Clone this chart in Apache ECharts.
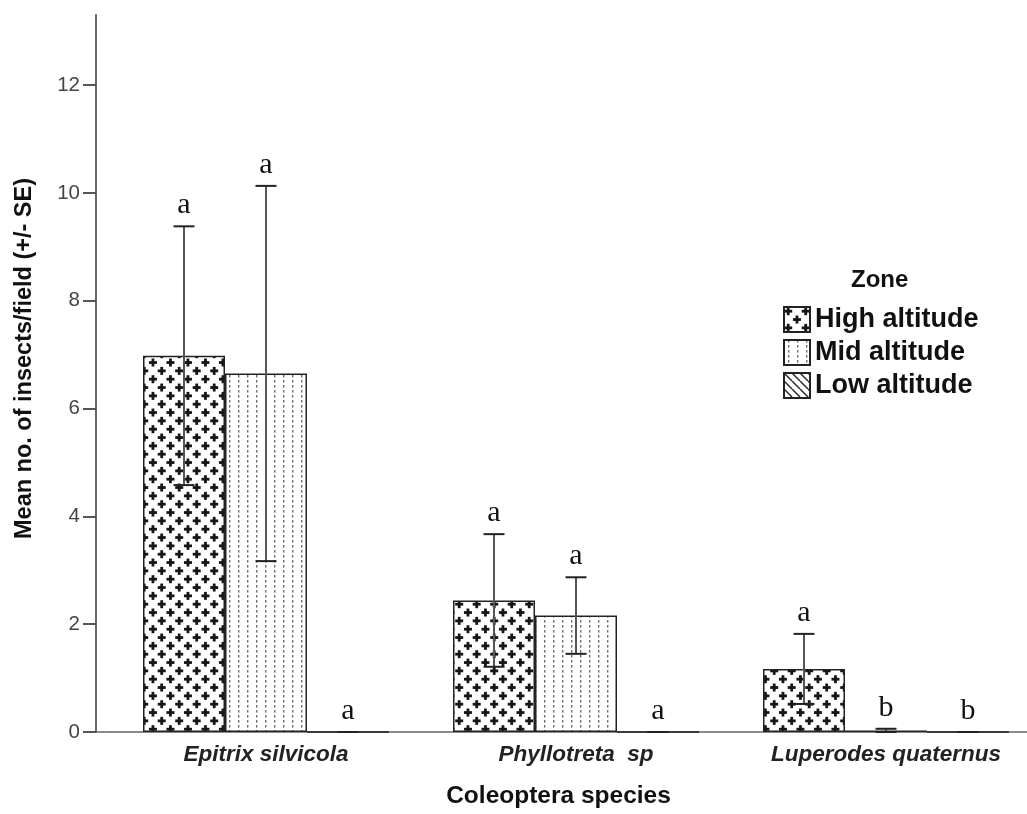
<!DOCTYPE html>
<html>
<head>
<meta charset="utf-8">
<script src="https://cdn.jsdelivr.net/npm/echarts@6/dist/echarts.min.js"></script>
<style>
  html, body { margin: 0; padding: 0; background: #fff; overflow: hidden; }
  #chart { width: 1041px; height: 814px; }
</style>
</head>
<body>
<div id="chart"></div>
<script>
// ---------------- data ----------------
const categories = ['Epitrix silvicola', 'Phyllotreta  sp', 'Luperodes quaternus'];
const zones = ['High altitude', 'Mid altitude', 'Low altitude'];
const highMean = [6.98, 2.44, 1.17];
const highSE   = [2.40, 1.23, 0.65];
const midMean  = [6.65, 2.16, 0.03];
const midSE    = [3.48, 0.71, 0.03];
const lowMean  = [0, 0, 0];
const lowSE    = [0, 0, 0];
const highLetters = ['a', 'a', 'a'];
const midLetters  = ['a', 'a', 'b'];
const lowLetters  = ['a', 'a', 'b'];
const yTicks = [0, 2, 4, 6, 8, 10, 12];
const yMax = 13.3;

// ---------------- styling constants ----------------
const BAR_W = 82;
const CAP_W = 21;
const GRID_LEFT = 111;
const Y_OFFSET = 15;
const SANS = 'Liberation Sans';

// ---------------- fill patterns ----------------
function plusPattern() {
  const c = document.createElement('canvas');
  c.width = 35; c.height = 50;
  const g = c.getContext('2d');
  g.fillStyle = '#fff'; g.fillRect(0, 0, 35, 50);
  g.fillStyle = '#161616';
  for (let r = 0; r < 6; r++) {
    const y = r * 50 / 6 + 4.2;
    for (let col = 0; col < 2; col++) {
      const x = col * 17.5 + (r % 2 ? 8.75 : 0) + 4.2;
      g.fillRect(x - 4, y - 1.4, 8, 2.8);
      g.fillRect(x - 1.4, y - 4, 2.8, 8);
    }
  }
  return { image: c, repeat: 'repeat' };
}
function dotPattern() {
  const c = document.createElement('canvas');
  c.width = 9; c.height = 5;
  const g = c.getContext('2d');
  g.fillStyle = '#fff'; g.fillRect(0, 0, 9, 5);
  g.fillStyle = '#707070';
  g.fillRect(4, 0, 1.4, 2.6);
  return { image: c, repeat: 'repeat' };
}
function hatchPattern() {
  const c = document.createElement('canvas');
  c.width = 8; c.height = 8;
  const g = c.getContext('2d');
  g.fillStyle = '#fff'; g.fillRect(0, 0, 8, 8);
  g.strokeStyle = '#222'; g.lineWidth = 1.4;
  for (const k of [-8, 0, 8]) {
    g.beginPath(); g.moveTo(k, 0); g.lineTo(k + 8, 8); g.stroke();
  }
  return { image: c, repeat: 'repeat' };
}
const patterns = [plusPattern(), dotPattern(), hatchPattern()];

function barSeries(k, means) {
  return {
    type: 'bar',
    name: zones[k],
    data: means,
    barWidth: BAR_W,
    barGap: '0%',
    z: 2,
    itemStyle: { color: patterns[k], borderColor: '#222', borderWidth: 1.5 },
    emphasis: { disabled: true }
  };
}

function errSeries(k, means, ses, letters) {
  return {
    type: 'custom',
    name: 'err' + k,
    z: 5,
    silent: true,
    data: means.map((m, i) => [i, m - ses[i], m + ses[i]]),
    renderItem: function (params, api) {
      const i = api.value(0);
      const top = api.coord([i, api.value(2)]);
      const bot = api.coord([i, api.value(1)]);
      const x = top[0] + (k - 1) * BAR_W;
      const h = CAP_W / 2;
      return {
        type: 'group',
        children: [
          { type: 'line', shape: { x1: x, y1: top[1], x2: x, y2: bot[1] }, style: { stroke: '#555', lineWidth: 2 } },
          { type: 'line', shape: { x1: x - h, y1: top[1], x2: x + h, y2: top[1] }, style: { stroke: '#222', lineWidth: 2 } },
          { type: 'line', shape: { x1: x - h, y1: bot[1], x2: x + h, y2: bot[1] }, style: { stroke: '#222', lineWidth: 2 } },
          { type: 'text', x: x, y: top[1] - 6,
            style: { text: letters[params.dataIndex], fontFamily: 'Liberation Serif', fontSize: 30,
                     fill: '#111', align: 'center', verticalAlign: 'bottom' } }
        ]
      };
    }
  };
}

const chart = echarts.init(document.getElementById('chart'), null, { renderer: 'canvas' });
const option = {
  animation: false,
  backgroundColor: '#fff',
  title: {
    text: 'Zone',
    left: 851, top: 268, padding: 0,
    textStyle: { fontFamily: SANS, fontWeight: 'bold', fontSize: 24, color: '#111' }
  },
  legend: {
    data: zones,
    orient: 'vertical',
    left: 783, top: 306, padding: 0,
    itemWidth: 26, itemHeight: 25, itemGap: 6,
    icon: 'rect',
    selectedMode: false,
    textStyle: { fontFamily: SANS, fontWeight: 'bold', fontSize: 27, color: '#111' }
  },
  grid: { left: GRID_LEFT, right: 0, top: 15, bottom: 81.5, containLabel: false },
  xAxis: {
    type: 'category',
    data: categories,
    name: 'Coleoptera species',
    nameLocation: 'middle',
    nameGap: 52,
    nameTextStyle: { fontFamily: SANS, fontWeight: 'bold', fontSize: 24.5, color: '#111', padding: [0, 35, 0, 0] },
    axisLine: { lineStyle: { color: '#666', width: 1.5 } },
    axisTick: { alignWithLabel: true, length: 10, lineStyle: { color: '#555', width: 2 } },
    axisLabel: { margin: 11, fontFamily: SANS, fontWeight: 'bold', fontStyle: 'italic', fontSize: 22.5, color: '#222', interval: 0 },
    splitLine: { show: false }
  },
  yAxis: {
    type: 'value',
    min: 0, max: yMax, interval: 2,
    offset: Y_OFFSET,
    name: 'Mean no. of insects/field (+/- SE)',
    nameLocation: 'middle',
    nameGap: 59,
    nameTextStyle: { fontFamily: SANS, fontWeight: 'bold', fontSize: 23.5, color: '#111', padding: [0, 0, 0, 30] },
    axisLine: { show: true, lineStyle: { color: '#666', width: 2 } },
    axisTick: { show: true, length: 13, customValues: yTicks, lineStyle: { color: '#555', width: 2 } },
    axisLabel: { margin: 16, customValues: yTicks, fontFamily: SANS, fontSize: 20.5, color: '#444' },
    splitLine: { show: false }
  },
  series: [
    barSeries(0, highMean),
    barSeries(1, midMean),
    barSeries(2, lowMean),
    errSeries(0, highMean, highSE, highLetters),
    errSeries(1, midMean, midSE, midLetters),
    errSeries(2, lowMean, lowSE, lowLetters)
  ]
};
chart.setOption(option);

// extend the baseline from the offset y axis to the grid edge
const y0 = chart.convertToPixel({ yAxisIndex: 0 }, 0);
chart.setOption({
  graphic: [{
    type: 'line', silent: true, z: 10,
    shape: { x1: GRID_LEFT - Y_OFFSET, y1: y0, x2: GRID_LEFT, y2: y0 },
    style: { stroke: '#666', lineWidth: 1.5 }
  }]
});
</script>
</body>
</html>
